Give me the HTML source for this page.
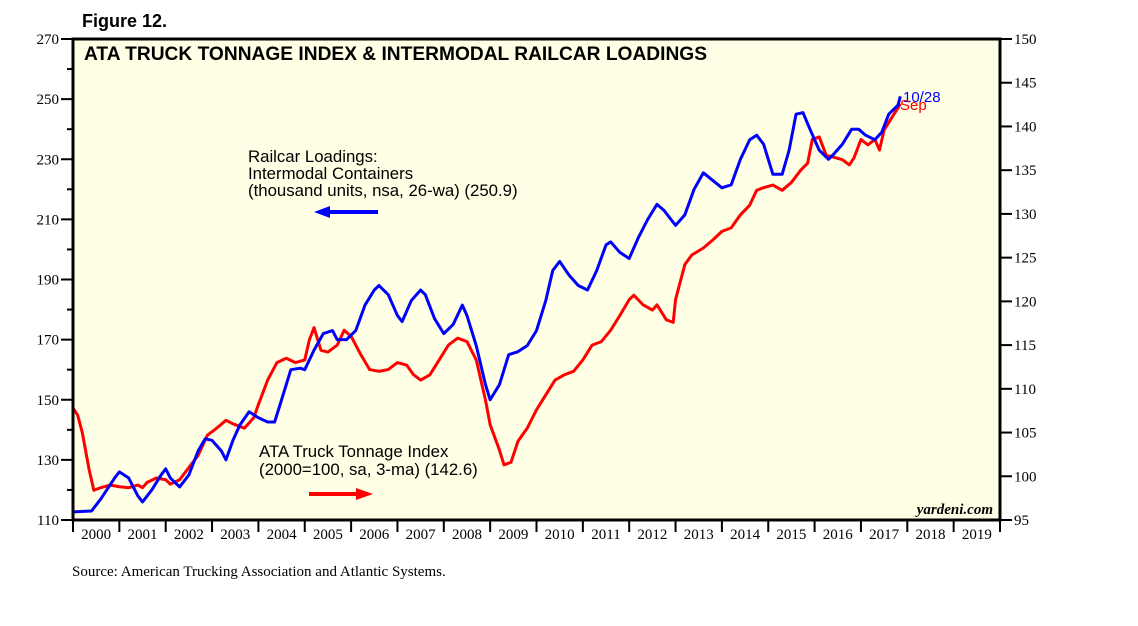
<!DOCTYPE html>
<html><head><meta charset="utf-8"><style>
body{margin:0;background:#fff;}
svg text{font-family:"Liberation Serif",serif;}
svg text.sans{font-family:"Liberation Sans",sans-serif;}
</style></head><body>
<svg width="1138" height="621" xmlns="http://www.w3.org/2000/svg">
<text class="sans" x="82" y="27" font-weight="bold" font-size="18">Figure 12.</text>
<rect x="73" y="39" width="927" height="481" fill="#ffffe6" stroke="none"/>
<g id="lines"></g>
<rect x="73" y="39" width="927" height="481" fill="none" stroke="#000" stroke-width="3"/>
<text class="sans" x="84" y="60" font-size="19" font-weight="bold" textLength="623" lengthAdjust="spacingAndGlyphs">ATA TRUCK TONNAGE INDEX &amp; INTERMODAL RAILCAR LOADINGS</text>
<g font-size="16.8">
<text class="sans" x="248" y="162">Railcar Loadings:</text>
<text class="sans" x="248" y="179">Intermodal Containers</text>
<text class="sans" x="248" y="196">(thousand units, nsa, 26-wa) (250.9)</text>
</g>
<g font-size="16.8">
<text class="sans" x="259" y="457">ATA Truck Tonnage Index</text>
<text class="sans" x="259" y="475">(2000=100, sa, 3-ma) (142.6)</text>
</g>
<line x1="378" y1="212" x2="325" y2="212" stroke="#0000ff" stroke-width="4"/>
<polygon points="314,212 330,206 330,218" fill="#0000ff"/>
<line x1="309" y1="494" x2="360" y2="494" stroke="#ff0000" stroke-width="4"/>
<polygon points="373,494 356,488 356,500" fill="#ff0000"/>
<text class="sans" x="903" y="102" font-size="15" fill="#0000ff">10/28</text>
<text class="sans" x="900" y="110" font-size="15" fill="#ff0000">Sep</text>
<text x="993" y="514" font-size="15" font-style="italic" font-weight="bold" text-anchor="end">yardeni.com</text>
<g id="axes"></g>
<text x="72" y="576" font-size="15">Source: American Trucking Association and Atlantic Systems.</text>
</svg>
<script>
const years = [2000,2001,2002,2003,2004,2005,2006,2007,2008,2009,2010,2011,2012,2013,2014,2015,2016,2017,2018,2019];
const leftTicks = [110,130,150,170,190,210,230,250,270];
const rightTicks = [95,100,105,110,115,120,125,130,135,140,145,150];
const railT = [2000.0,2000.4,2000.6,2000.9,2001.0,2001.2,2001.4,2001.5,2001.7,2001.9,2002.0,2002.1,2002.3,2002.5,2002.7,2002.85,2003.0,2003.2,2003.3,2003.45,2003.6,2003.8,2004.0,2004.2,2004.35,2004.5,2004.7,2004.9,2005.0,2005.2,2005.4,2005.6,2005.7,2005.9,2006.1,2006.3,2006.5,2006.6,2006.8,2007.0,2007.1,2007.3,2007.5,2007.6,2007.8,2008.0,2008.2,2008.4,2008.5,2008.7,2008.9,2009.0,2009.2,2009.4,2009.6,2009.8,2010.0,2010.2,2010.35,2010.5,2010.7,2010.9,2011.1,2011.3,2011.5,2011.6,2011.8,2012.0,2012.2,2012.4,2012.6,2012.75,2013.0,2013.2,2013.4,2013.6,2013.8,2014.0,2014.2,2014.4,2014.6,2014.75,2014.9,2015.1,2015.3,2015.45,2015.6,2015.75,2015.9,2016.1,2016.3,2016.4,2016.6,2016.8,2016.95,2017.1,2017.3,2017.45,2017.6,2017.8,2017.85];
const railV = [112.7,113,117,124,126,124,118,116,120,125,127,124,121,125,133,137,136.5,133,130,136.5,141.6,146,144,142.6,142.6,150,160,160.5,160,166.5,172,173,170,170,173,181.5,186.5,188,185,178,176,183,186.5,185,177,172,175,181.5,178,168,155,150,155,165,166,168,173,183,193,196,191.5,188,186.5,193,201.5,202.5,199,197,204,210,215,213,208,211.5,220,225.5,223,220.5,221.5,230,236.5,238,235,225,225,233,245,245.5,240,233,230,231.5,235,240,240,238,236.5,239,245,248,250.9];
const tonT = [2000.0,2000.1,2000.2,2000.35,2000.45,2000.6,2000.8,2001.0,2001.2,2001.4,2001.5,2001.6,2001.8,2002.0,2002.1,2002.3,2002.5,2002.7,2002.9,2003.1,2003.3,2003.45,2003.7,2003.9,2004.0,2004.2,2004.4,2004.6,2004.8,2005.0,2005.1,2005.2,2005.35,2005.5,2005.7,2005.85,2006.0,2006.2,2006.4,2006.6,2006.8,2007.0,2007.2,2007.35,2007.5,2007.7,2007.9,2008.1,2008.3,2008.5,2008.7,2008.9,2009.0,2009.2,2009.3,2009.45,2009.6,2009.8,2010.0,2010.2,2010.4,2010.6,2010.8,2011.0,2011.2,2011.4,2011.6,2011.8,2012.0,2012.1,2012.3,2012.5,2012.6,2012.8,2012.95,2013.0,2013.2,2013.35,2013.6,2013.8,2014.0,2014.2,2014.4,2014.6,2014.75,2014.9,2015.1,2015.3,2015.5,2015.7,2015.85,2015.95,2016.1,2016.25,2016.4,2016.6,2016.75,2016.85,2017.0,2017.15,2017.3,2017.4,2017.5,2017.7,2017.8,2017.85];
const tonV = [107.8,107,105,100.7,98.4,98.7,99,98.8,98.7,99,98.7,99.3,99.8,99.6,99.1,99.6,101,102.4,104.7,105.5,106.4,106,105.5,106.7,108.2,111,113,113.5,113,113.3,115.6,117,114.4,114.2,115,116.7,116,114,112.2,112,112.2,113,112.7,111.6,111,111.6,113.3,115,115.8,115.4,113.3,108.7,105.9,103,101.3,101.6,104,105.5,107.6,109.3,111,111.6,112,113.3,115,115.4,116.7,118.4,120.2,120.7,119.6,119,119.6,117.9,117.6,120.2,124.2,125.3,126.1,127,128,128.4,129.9,131,132.7,133,133.3,132.7,133.6,135,135.8,138.5,138.8,136.7,136.5,136.2,135.6,136.4,138.5,137.9,138.5,137.3,139.6,141.3,142.1,142.6];

const NS="http://www.w3.org/2000/svg";
const X0=73,X1=1000,Y0=520,Y1=39;
const xs=t=>X0+(t-2000)*(X1-X0)/20;
const yl=v=>Y0-(v-110)*(Y0-Y1)/160;
const yr=v=>Y0-(v-95)*(Y0-Y1)/55;
function mk(tag,attrs,parent){const e=document.createElementNS(NS,tag);for(const k in attrs)e.setAttribute(k,attrs[k]);parent.appendChild(e);return e;}
const axes=document.getElementById('axes');
leftTicks.forEach(v=>{
  const y=yl(v);
  const t=mk('line',{x1:X0-12,x2:X0,y1:y,y2:y,stroke:'#000','stroke-width':2},axes);
  
  
  const lb=mk('text',{x:X0-14,y:y+5,'text-anchor':'end','font-size':15},axes);
  lb.textContent=v;
  
  
  if(v<270){const ym=yl(v+10);const m=mk('line',{x1:X0-6,x2:X0,y1:ym,y2:ym,stroke:'#000','stroke-width':2},axes);
  
  }
});
rightTicks.forEach(v=>{
  const y=yr(v);
  const t=mk('line',{x1:X1,x2:X1+12,y1:y,y2:y,stroke:'#000','stroke-width':2},axes);
  
  
  const lb=mk('text',{x:X1+14,y:y+5,'font-size':15},axes);
  lb.textContent=v;
  
  
});
years.forEach(yv=>{
  const x=xs(yv);
  const t=mk('line',{x1:x,x2:x,y1:Y0,y2:Y0+12,stroke:'#000','stroke-width':2},axes);
  
  
  const lb=mk('text',{x:xs(yv+0.5),y:Y0+19,'text-anchor':'middle','font-size':15},axes);
  lb.textContent=yv;
  
  
});
const e=mk('line',{x1:X1,x2:X1,y1:Y0,y2:Y0+12,stroke:'#000','stroke-width':2},axes);


const lines=document.getElementById('lines');
const r=mk('polyline',{points:tonT.map((t,i)=>xs(t)+','+yr(tonV[i])).join(' '),fill:'none',stroke:'#ff0000','stroke-width':3,'stroke-linejoin':'round'},lines);


const b=mk('polyline',{points:railT.map((t,i)=>xs(t)+','+yl(railV[i])).join(' '),fill:'none',stroke:'#0000ff','stroke-width':3,'stroke-linejoin':'round'},lines);


</script>
</body></html>
